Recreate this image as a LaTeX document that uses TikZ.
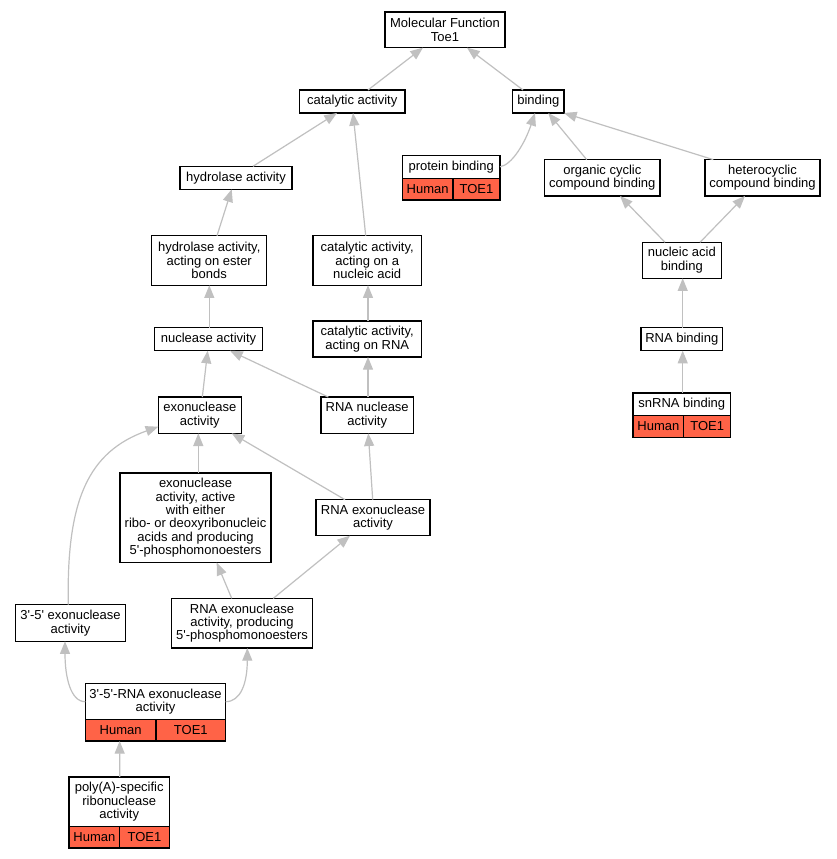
\documentclass[tikz,border=0pt]{standalone}
\usepackage{fontspec}
\setmainfont{Liberation Sans}
\usetikzlibrary{arrows.meta,calc}
\definecolor{edgegray}{RGB}{192,192,192}
\definecolor{tomatored}{RGB}{255,99,71}
\begin{document}
\begin{tikzpicture}[x=0.75pt,y=-0.75pt,
  box/.style 2 args={draw=black,line width=1pt,fill=white,inner sep=0pt,outer sep=0pt,align=center,minimum width=#1*0.75pt,minimum height=#2*0.75pt,font=\fontsize{9.75}{10}\selectfont},
  cell/.style 2 args={box={#1}{#2},fill=tomatored},
  edge/.style={draw=edgegray,line width=0.9pt,-{Triangle[length=9.5pt,width=7.5pt]}}]
\fill[white] (0,0) rectangle (836,859);
\useasboundingbox (0,0) rectangle (836,859);

\node[box={120}{35.7}] (mf) at (445,29.8) {Molecular Function\\Toe1};
\node[box={105.7}{23}] (cat) at (352.2,101.5) {catalytic activity};
\node[box={51.3}{23}] (bind) at (538.3,101.5) {binding};
\node[box={97.7}{23}] (prot) at (451.2,166.8) {protein binding};
\node[cell={50.7}{21.7}] (proth) at (427.65,189.15) {Human};
\node[cell={47}{21.7}] (prott) at (476.5,189.15) {TOE1};
\node[box={115.3}{36.3}] (org) at (602.3,177.8) {organic cyclic\\compound binding};
\node[box={115}{36.3}] (het) at (762.5,177.8) {heterocyclic\\compound binding};
\node[box={79}{36}] (nab) at (681.8,260.3) {nucleic acid\\binding};
\node[box={81.7}{23}] (rnab) at (681.8,339.2) {RNA binding};
\node[box={97.7}{22.7}] (sn) at (681.8,404.3) {snRNA binding};
\node[cell={50.7}{21.6}] (snh) at (658.35,426.5) {Human};
\node[cell={47}{21.6}] (snt) at (707.2,426.5) {TOE1};
\node[box={112}{23}] (hyd) at (236,177.8) {hydrolase activity};
\node[box={115}{49.6}] (hye) at (209.2,260.5) {hydrolase activity,\\acting on ester\\bonds};
\node[box={108.3}{49.6}] (cna) at (367.2,260.5) {catalytic activity,\\acting on a\\nucleic acid};
\node[box={108.4}{23}] (nuc) at (208.5,339.2) {nuclease activity};
\node[box={108.3}{36}] (crna) at (367.2,339) {catalytic activity,\\acting on RNA};
\node[box={83}{36.3}] (exo) at (199.8,415.2) {exonuclease\\activity};
\node[box={92.3}{36.3}] (rnan) at (367.2,415.2) {RNA nuclease\\activity};
\node[box={151}{89.7}] (exl) at (195.5,517.8) {exonuclease\\activity, active\\with either\\ribo- or deoxyribonucleic\\acids and producing\\5\textquotesingle-phosphomonoesters};
\node[box={114}{36}] (rnae) at (373,517.7) {RNA exonuclease\\activity};
\node[box={109.6}{36.6}] (e35) at (70.5,623) {3\textquotesingle-5\textquotesingle{} exonuclease\\activity};
\node[box={140.6}{49.7}] (rep) at (242,623.2) {RNA exonuclease\\activity, producing\\5\textquotesingle-phosphomonoesters};
\node[box={140.4}{36}] (r35) at (155.5,701.7) {3\textquotesingle-5\textquotesingle-RNA exonuclease\\activity};
\node[cell={70.7}{21.3}] (r35h) at (120.65,730.35) {Human};
\node[cell={69.7}{21.3}] (r35t) at (190.85,730.35) {TOE1};
\node[box={100.3}{49.7}] (poly) at (119.2,801.8) {poly(A)-specific\\ribonuclease\\activity};
\node[cell={50.7}{21.3}] (polyh) at (94.35,837.35) {Human};
\node[cell={49.6}{21.3}] (polyt) at (144.5,837.35) {TOE1};

\draw[edge] ([shift={(15.8,0)}]cat.north) -- ([shift={(-22,0)}]mf.south);
\draw[edge] ([shift={(-15.3,0)}]bind.north) -- ([shift={(22,0)}]mf.south);
\draw[edge] ([shift={(17,0)}]hyd.north) -- ([shift={(-15.2,0)}]cat.south);
\draw[edge] ([shift={(-1.5,0)}]cna.north) -- ([shift={(0.8,0)}]cat.south);
\draw[edge] (prot.east) .. controls +(12,-2) and +(-10,30) .. ([shift={(-3.3,0)}]bind.south);
\draw[edge] ([shift={(-15.6,0)}]org.north) -- ([shift={(10,0)}]bind.south);
\draw[edge] ([shift={(-49.2,0)}]het.north) -- (bind.south east);
\draw[edge] ([shift={(-16.8,0)}]nab.north) -- ([shift={(17.7,0)}]org.south);
\draw[edge] ([shift={(18.2,0)}]nab.north) -- ([shift={(-17.5,0)}]het.south);
\draw[edge] ([shift={(0.9,0)}]rnab.north) -- ([shift={(0.9,0)}]nab.south);
\draw[edge] ([shift={(0.9,0)}]sn.north) -- ([shift={(0.9,0)}]rnab.south);
\draw[edge] ([shift={(7.8,0)}]hye.north) -- ([shift={(-4.3,0)}]hyd.south);
\draw[edge] ([shift={(0.8,0)}]nuc.north) -- ([shift={(0.1,0)}]hye.south);
\draw[edge] ([shift={(0.8,0)}]crna.north) -- ([shift={(0.8,0)}]cna.south);
\draw[edge] ([shift={(2.5,0)}]exo.north) -- ([shift={(-0.8,0)}]nuc.south);
\draw[edge] ([shift={(-38.9,0)}]rnan.north) -- ([shift={(21.5,0)}]nuc.south);
\draw[edge] ([shift={(0.8,0)}]rnan.north) -- ([shift={(0.8,0)}]crna.south);
\draw[edge] ([shift={(2.8,0)}]exl.north) -- ([shift={(-1.5,0)}]exo.south);
\draw[edge] ([shift={(-28,0)}]rnae.north) -- ([shift={(31.9,0)}]exo.south);
\draw[edge] ([shift={(-0.3,0)}]rnae.north) -- ([shift={(1.1,0)}]rnan.south);
\draw[edge] ([shift={(-2.2,0)}]e35.north) .. controls +(-2,-105) and +(-70,25) .. ([shift={(0,11.5)}]exo.west);
\draw[edge] ([shift={(-10.3,0)}]rep.north) -- ([shift={(21.2,0)}]exl.south);
\draw[edge] ([shift={(31.3,0)}]rep.north) -- ([shift={(-23,0)}]rnae.south);
\draw[edge] (r35.west) .. controls +(-15,0) and +(0,35) .. ([shift={(-5.5,0)}]e35.south);
\draw[edge] (r35.east) .. controls +(15,0) and +(0,35) .. ([shift={(5.3,0)}]rep.south);
\draw[edge] ([shift={(0.5,0)}]poly.north) -- ([shift={(-1,0)}]r35h.south);
\end{tikzpicture}
\end{document}
